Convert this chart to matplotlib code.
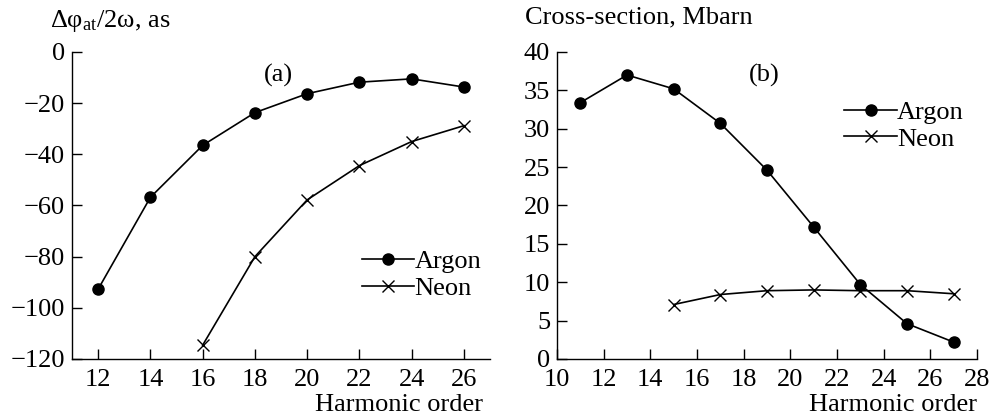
import matplotlib
matplotlib.use("Agg")
import matplotlib.pyplot as plt

# (a) atomic phase delay, attoseconds
harm_a_ar = [12, 14, 16, 18, 20, 22, 24, 26]
delay_ar = [-92.7, -56.8, -36.5, -23.7, -16.3, -11.8, -10.5, -13.7]
harm_a_ne = [16, 18, 20, 22, 24, 26]
delay_ne = [-114.6, -80.0, -57.8, -44.4, -35.0, -28.8]

# (b) photoionization cross-section, Mbarn
harm_b_ar = [11, 13, 15, 17, 19, 21, 23, 25, 27]
xsec_ar = [33.4, 37.0, 35.2, 30.7, 24.6, 17.2, 9.7, 4.6, 2.2]
harm_b_ne = [15, 17, 19, 21, 23, 25, 27]
xsec_ne = [7.1, 8.4, 8.9, 9.0, 8.9, 8.9, 8.5]

plt.rcParams['font.family'] = ['Liberation Serif', 'DejaVu Serif']
plt.rcParams['font.size'] = 19
plt.rcParams['mathtext.fontset'] = 'custom'
plt.rcParams['mathtext.rm'] = 'Liberation Serif'
plt.rcParams['mathtext.it'] = 'Liberation Serif:italic'

fig = plt.figure(figsize=(9.92, 4.19), dpi=100)
ax1 = fig.add_axes([0.0726, 0.1432, 0.4214, 0.7327])
ax2 = fig.add_axes([0.5615, 0.1432, 0.4234, 0.7327])

lw = 1.2
for ax in (ax1, ax2):
    ax.spines['top'].set_visible(False)
    ax.spines['right'].set_visible(False)
    ax.spines['left'].set_linewidth(1.0)
    ax.spines['bottom'].set_linewidth(1.0)
    ax.tick_params(direction='in', length=7, width=1.0, labelsize=19)
    ax.tick_params(axis='x', pad=7)
    ax.tick_params(axis='y', pad=5)

leg_kw = dict(frameon=False, handlelength=2.0, handletextpad=0.0,
              labelspacing=0.12, borderpad=0, fontsize=19)

ax1.plot(harm_a_ar, delay_ar, '-o', color='black', lw=lw, ms=8, label='Argon')
ax1.plot(harm_a_ne, delay_ne, '-x', color='black', lw=lw, ms=8, mew=1.0, label='Neon')
ax1.set_xlim(11, 27)
ax1.set_ylim(-120, 0)
ax1.set_xticks(range(12, 27, 2))
ax1.set_yticks(range(-120, 1, 20))
ax1.text(18.9, -9, '(a)', ha='center', va='center')
ax1.legend(loc='lower right', bbox_to_anchor=(1.01, 0.15), **leg_kw)

ax2.plot(harm_b_ar, xsec_ar, '-o', color='black', lw=lw, ms=8, label='Argon')
ax2.plot(harm_b_ne, xsec_ne, '-x', color='black', lw=lw, ms=8, mew=1.0, label='Neon')
ax2.set_xlim(10, 28)
ax2.set_ylim(0, 40)
ax2.set_xticks(range(10, 29, 2))
ax2.set_yticks(range(0, 41, 5))
ax2.text(18.9, 37, '(b)', ha='center', va='center')
ax2.legend(loc='upper right', bbox_to_anchor=(1.0, 0.885), **leg_kw)

# axis titles sit above the y axes, x titles under the right end
fig.text(0.05, 0.935, r'$\mathrm{\Delta\varphi_{at}/2\omega}$, as', va='baseline')
fig.text(0.529, 0.945, 'Cross-section, Mbarn', va='baseline')
fig.text(0.487, 0.02, 'Harmonic order', ha='right', va='baseline')
fig.text(0.985, 0.02, 'Harmonic order', ha='right', va='baseline')

fig.savefig('out.png', dpi=100)
